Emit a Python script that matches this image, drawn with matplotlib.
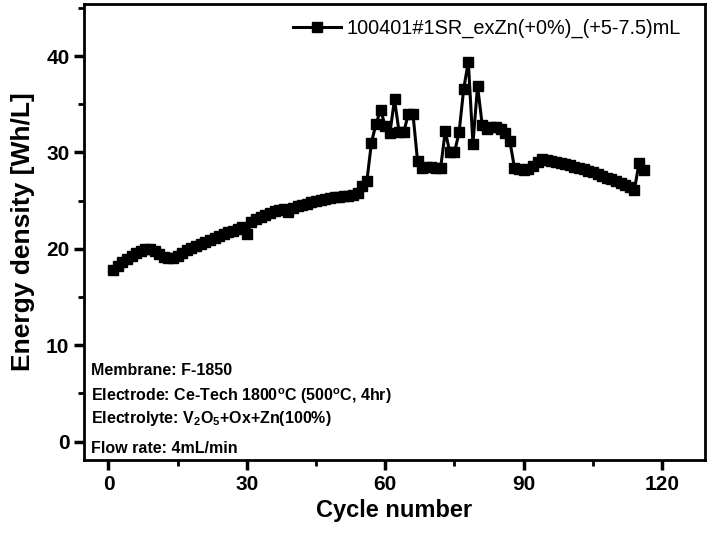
import numpy as np
import matplotlib.pyplot as plt
from matplotlib.ticker import MultipleLocator

plt.rcParams['font.family'] = ['Liberation Sans', 'DejaVu Sans']
plt.rcParams['mathtext.default'] = 'regular'

# --- data ---
cycles = np.arange(1, 117)
energy = [
    17.8, 18.2, 18.6, 19.0, 19.3, 19.6, 19.8, 20.0, 20.0, 19.8,
    19.5, 19.2, 19.1, 19.1, 19.3, 19.6, 19.9, 20.1, 20.3, 20.5,
    20.7, 20.9, 21.1, 21.3, 21.5, 21.7, 21.9, 22.1, 22.3, 21.5,
    22.8, 23.1, 23.3, 23.5, 23.7, 23.9, 24.0, 24.1, 23.8, 24.2,
    24.4, 24.6, 24.7, 24.9, 25.0, 25.1, 25.2, 25.3, 25.4, 25.4,
    25.5, 25.5, 25.6, 25.8, 26.5, 27.0, 31.0, 33.0, 34.4, 32.7,
    32.0, 35.5, 32.1, 32.1, 34.0, 34.0, 29.1, 28.4, 28.5, 28.5,
    28.4, 28.4, 32.2, 30.0, 30.0, 32.1, 36.6, 39.4, 30.9, 36.9,
    32.9, 32.4, 32.6, 32.6, 32.4, 32.0, 31.2, 28.4, 28.3, 28.2,
    28.3, 28.6, 29.0, 29.3, 29.2, 29.1, 29.0, 28.9, 28.8, 28.7,
    28.5, 28.4, 28.3, 28.1, 28.0, 27.8, 27.6, 27.4, 27.2, 27.0,
    26.8, 26.6, 26.4, 26.1, 28.9, 28.2,
]
series_label = '100401#1SR_exZn(+0%)_(+5-7.5)mL'
notes = [
    'Membrane: F-1850',
    'Electrode: Ce-Tech 1800$^{o}$C (500$^{o}$C, 4hr)',
    'Electrolyte: V$_2$O$_5$+Ox+Zn(100%)',
    'Flow rate: 4mL/min',
]

fig = plt.figure(figsize=(7.12, 5.36), dpi=100)
ax = fig.add_axes([84 / 712, 76 / 536, 621 / 712, 456 / 536])

ax.plot(cycles, energy, color='black', lw=2.2, marker='s', ms=7.5,
        label=series_label)

ax.set_xlim(-5.3, 129.3)
ax.set_ylim(-1.9, 45.4)
ax.xaxis.set_major_locator(MultipleLocator(30))
ax.xaxis.set_minor_locator(MultipleLocator(15))
ax.yaxis.set_major_locator(MultipleLocator(10))
ax.yaxis.set_minor_locator(MultipleLocator(5))

for s in ax.spines.values():
    s.set_linewidth(2)
ax.tick_params(which='major', direction='out', length=7, width=2.5,
               labelsize=15)
ax.tick_params(which='minor', direction='out', length=4, width=2)
for lab in ax.get_xticklabels() + ax.get_yticklabels():
    lab.set_fontweight('bold')

ax.set_xlabel('Cycle number', fontsize=17, fontweight='bold', labelpad=4)
ax.set_ylabel('Energy density [Wh/L]', fontsize=19, fontweight='bold',
              labelpad=8)

ax.legend(loc='upper right', frameon=False, fontsize=14.3,
          handlelength=2.4, borderaxespad=0.35, handletextpad=0.3,
          bbox_to_anchor=(0.985, 1.0))

ys = [0.197, 0.140, 0.090, 0.026]
for t, y in zip(notes, ys):
    ax.text(0.012, y, t, transform=ax.transAxes, fontsize=11.5,
            fontweight='bold', va='center')

fig.savefig('out.png', dpi=100)
